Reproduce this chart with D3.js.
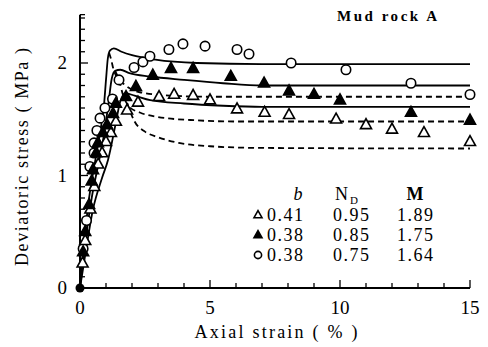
<!DOCTYPE html>
<html><head><meta charset="utf-8">
<script src="https://cdn.jsdelivr.net/npm/d3@7"></script>
<style>html,body{margin:0;padding:0;background:#fff}svg{display:block}</style>
</head><body>
<script>
// ---- data ----
const xTicksMajor = [0, 5, 10, 15];
const yTicksMajor = [0, 1, 2];
const solidTop = [[0,0],[0.1,0.28],[0.35,0.8],[0.6,1.15],[0.8,1.42],[0.92,1.62],[1.0,1.85],[1.07,2.04],[1.15,2.11],[1.3,2.13],[1.6,2.1],[2.0,2.07],[2.9,2.03],[4.5,2.0],[7,1.99],[15,1.99]];
const solidMid = [[0,0],[0.12,0.25],[0.45,0.8],[0.75,1.15],[0.95,1.4],[1.1,1.65],[1.22,1.86],[1.35,1.93],[1.55,1.94],[1.9,1.91],[2.7,1.88],[4,1.85],[5.5,1.82],[7,1.8],[15,1.8]];
const solidLow = [[0,0],[0.15,0.22],[0.5,0.7],[0.85,0.98],[1.08,1.14],[1.38,1.47],[1.55,1.66],[1.75,1.73],[2.1,1.71],[2.7,1.67],[4,1.64],[5.5,1.62],[7,1.61],[15,1.61]];
const dashTop = [[1.12,2.09],[1.2,2.03],[1.28,1.95],[1.4,1.88],[1.7,1.81],[2.3,1.74],[3.5,1.71],[5,1.7],[15,1.7]];
const dashMid = [[1.35,1.93],[1.5,1.85],[1.65,1.72],[1.9,1.61],[2.3,1.56],[3.0,1.52],[4.5,1.49],[6,1.48],[15,1.48]];
const dashLow = [[1.7,1.73],[1.85,1.62],[2.1,1.48],[2.5,1.39],[3.0,1.34],[3.8,1.29],[5,1.26],[7,1.245],[15,1.24]];
const circlePts = [[0.12,0.35],[0.25,0.6],[0.38,1.08],[0.54,1.2],[0.54,1.29],[0.65,1.4],[0.77,1.51],[0.96,1.6],[1.25,1.68],[1.5,1.85],[2.08,1.96],[2.42,2.01],[2.69,2.06],[3.42,2.12],[3.96,2.17],[4.81,2.15],[6.04,2.12],[6.5,2.08],[8.12,2.0],[10.23,1.94],[12.73,1.82],[15.0,1.72]];
const filledTriPts = [[0.12,0.32],[0.2,0.5],[0.35,0.74],[0.45,0.95],[0.5,1.05],[0.62,1.2],[0.69,1.29],[0.88,1.38],[1.04,1.45],[1.27,1.55],[1.38,1.64],[1.77,1.7],[2.15,1.79],[2.8,1.89],[3.5,1.95],[4.35,1.95],[5.8,1.88],[7.08,1.82],[8.04,1.75],[9.0,1.72],[10.0,1.67],[12.73,1.56],[15.0,1.49]];
const openTriPts = [[0.1,0.22],[0.2,0.42],[0.4,0.7],[0.55,0.9],[0.7,1.1],[0.85,1.2],[1.0,1.3],[1.19,1.38],[1.38,1.48],[1.81,1.58],[2.23,1.65],[3.04,1.7],[3.62,1.72],[4.35,1.71],[5.0,1.67],[6.04,1.59],[7.1,1.56],[8.04,1.54],[9.85,1.5],[11.0,1.45],[12.0,1.41],[13.23,1.38],[15.0,1.3]];
const legendHeaders = ["b", "N", "M"];
const legendB = ["0.41", "0.38", "0.38"];
const legendND = ["0.95", "0.85", "0.75"];
const legendM = ["1.89", "1.75", "1.64"];
const legendSymbols = ["openTri", "filledTri", "circle"];

// ---- drawing ----
const W = 488, H = 347;
const svg = d3.select("body").append("svg").attr("width", W).attr("height", H)
  .style("font-family", "'Liberation Serif', 'DejaVu Serif', serif");
svg.append("rect").attr("width", W).attr("height", H).attr("fill", "#fff");

const x = d3.scaleLinear().domain([0, 15]).range([80, 470]);
const y = d3.scaleLinear().domain([0, 2]).range([288, 63]);

const g = svg.append("g");

// axes lines
g.append("line").attr("x1", x(0)).attr("x2", x(15)).attr("y1", y(0)).attr("y2", y(0))
  .attr("stroke", "#000").attr("stroke-width", 2);
g.append("line").attr("x1", x(0)).attr("x2", x(0)).attr("y1", y(0)).attr("y2", y(2.43))
  .attr("stroke", "#000").attr("stroke-width", 2);

// x ticks (inward)
const xMinor = d3.range(0, 15.01, 1);
xMinor.forEach(v => {
  const major = xTicksMajor.includes(v);
  g.append("line").attr("x1", x(v)).attr("x2", x(v)).attr("y1", y(0)).attr("y2", y(0) - (major ? 8 : 5))
    .attr("stroke", "#000").attr("stroke-width", 1.3);
});
xTicksMajor.forEach(v => {
  g.append("text").attr("x", x(v)).attr("y", 314).attr("text-anchor", "middle")
    .attr("font-size", 19).text(v);
});
// y ticks (inward)
const yMinor = d3.range(0, 24.5, 1).map(d => d / 10).concat([2.43]);
yMinor.forEach(v => {
  const major = yTicksMajor.some(t => Math.abs(t - v) < 1e-6);
  g.append("line").attr("x1", x(0)).attr("x2", x(0) + (major ? 8 : 5)).attr("y1", y(v)).attr("y2", y(v))
    .attr("stroke", "#000").attr("stroke-width", 1.3);
});
yTicksMajor.forEach(v => {
  g.append("text").attr("x", 67).attr("y", y(v) + 6).attr("text-anchor", "end")
    .attr("font-size", 19).text(v);
});

// axis titles
svg.append("text").attr("x", 276).attr("y", 338).attr("text-anchor", "middle")
  .attr("font-size", 18).attr("textLength", 163).attr("lengthAdjust", "spacing")
  .text("Axial strain ( % )");
svg.append("text").attr("transform", "translate(28,157) rotate(-90)").attr("text-anchor", "middle")
  .attr("font-size", 18).attr("textLength", 218).attr("lengthAdjust", "spacing")
  .text("Deviatoric stress ( MPa )");

// title
svg.append("text").attr("x", 337).attr("y", 21).attr("font-size", 15).attr("font-weight", "bold")
  .attr("textLength", 100).attr("lengthAdjust", "spacing").text("Mud rock  A");

// curves
const line = d3.line().x(d => x(d[0])).y(d => y(d[1])).curve(d3.curveMonotoneX);
[solidTop, solidMid, solidLow].forEach(c => {
  g.append("path").attr("d", line(c)).attr("fill", "none").attr("stroke", "#000").attr("stroke-width", 1.8);
});
[dashTop, dashMid, dashLow].forEach(c => {
  g.append("path").attr("d", line(c)).attr("fill", "none").attr("stroke", "#000").attr("stroke-width", 1.8)
    .attr("stroke-dasharray", "6,4");
});

// markers
function triPath(cx, cy, s) {
  const h = s * 0.9;
  return `M${cx},${cy - h * 0.62}L${cx + s / 2},${cy + h * 0.38}L${cx - s / 2},${cy + h * 0.38}Z`;
}
function drawSym(sel, type, cx, cy, s) {
  if (type === "circle") {
    sel.append("circle").attr("cx", cx).attr("cy", cy).attr("r", s * 0.45)
      .attr("fill", "#fff").attr("stroke", "#000").attr("stroke-width", 1.6);
  } else {
    sel.append("path").attr("d", triPath(cx, cy, s))
      .attr("fill", type === "filledTri" ? "#000" : "#fff").attr("stroke", "#000").attr("stroke-width", 1.6)
      .attr("stroke-linejoin", "miter");
  }
}
circlePts.forEach(d => drawSym(g, "circle", x(d[0]), y(d[1]), 10.5));
openTriPts.forEach(d => drawSym(g, "openTri", x(d[0]), y(d[1]), 11));
filledTriPts.forEach(d => drawSym(g, "filledTri", x(d[0]), y(d[1]), 11));

// origin dot
g.append("circle").attr("cx", x(0)).attr("cy", y(0)).attr("r", 4.5).attr("fill", "#000");

// legend
const lg = svg.append("g").attr("font-size", 18);
lg.append("text").attr("x", 298).attr("y", 200).attr("text-anchor", "middle").attr("font-style", "italic")
  .text(legendHeaders[0]);
const nd = lg.append("text").attr("x", 335).attr("y", 200);
nd.append("tspan").text(legendHeaders[1]);
nd.append("tspan").attr("dy", 4).attr("dx", 2).attr("font-size", 11).text("D");
lg.append("text").attr("x", 415).attr("y", 200).attr("text-anchor", "middle").attr("font-weight", "bold").text(legendHeaders[2]);
legendSymbols.forEach((s, i) => {
  const cy = 215 + i * 20;
  drawSym(lg, s, 258, cy, 8);
  lg.append("text").attr("x", 267).attr("y", cy + 6).attr("letter-spacing", 1.5).text(legendB[i]);
  lg.append("text").attr("x", 333).attr("y", cy + 6).attr("letter-spacing", 1.5).text(legendND[i]);
  lg.append("text").attr("x", 397).attr("y", cy + 6).attr("letter-spacing", 1.5).text(legendM[i]);
});
</script>
</body></html>
